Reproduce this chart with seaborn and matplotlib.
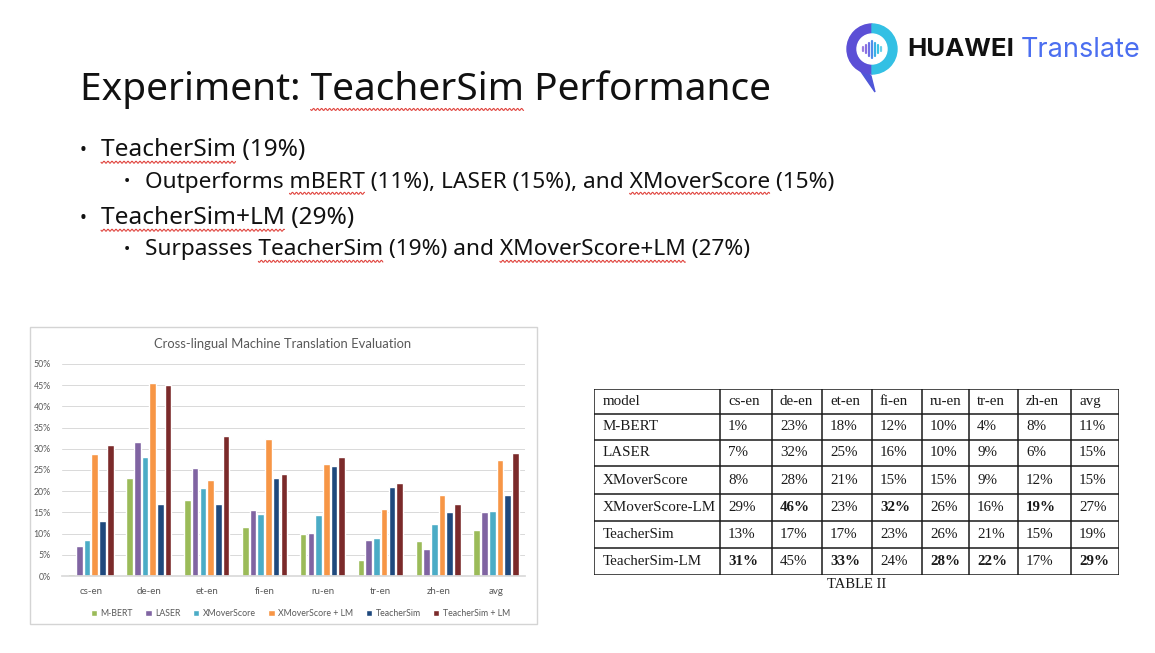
import numpy as np
import pandas as pd
import seaborn as sns
import matplotlib.pyplot as plt
from matplotlib.patches import Rectangle, Wedge, Polygon, Circle
from matplotlib.lines import Line2D
from matplotlib import ticker

# chart data (percent)
pairs = ['cs-en', 'de-en', 'et-en', 'fi-en', 'ru-en', 'tr-en', 'zh-en', 'avg']
models = ['M-BERT', 'LASER', 'XMoverScore', 'XMoverScore + LM', 'TeacherSim', 'TeacherSim + LM']
mbert = [0.5, 23, 18, 11.5, 10, 3.8, 8.2, 10.8]
laser = [7.1, 31.7, 25.4, 15.5, 10.1, 8.5, 6.4, 15.0]
xmover = [8.4, 28.0, 20.8, 14.7, 14.5, 8.9, 12.3, 15.3]
xmover_lm = [28.8, 45.5, 22.6, 32.2, 26.4, 15.9, 19.2, 27.3]
teachersim = [13.0, 17.0, 17.0, 23.1, 26.0, 21.0, 15.0, 19.0]
teachersim_lm = [31.0, 45.0, 33.0, 24.0, 28.0, 22.0, 17.0, 29.0]
colors = ['#9bbb59', '#8064a2', '#4bacc6', '#f79646', '#1f497d', '#7b2a2a']

# table data
table_models = ['M-BERT', 'LASER', 'XMoverScore', 'XMoverScore-LM', 'TeacherSim', 'TeacherSim-LM']
table_vals = [
    [1, 23, 18, 12, 10, 4, 8, 11],
    [7, 32, 25, 16, 10, 9, 6, 15],
    [8, 28, 21, 15, 15, 9, 12, 15],
    [29, 46, 23, 32, 26, 16, 19, 27],
    [13, 17, 17, 23, 26, 21, 15, 19],
    [31, 45, 33, 24, 28, 22, 17, 29],
]
bold_cells = [(3, 1), (3, 3), (3, 6), (5, 0), (5, 2), (5, 4), (5, 5), (5, 7)]

W, H = 1155, 653


def fx(x):
    return x / W


def fy(y):
    return 1 - y / H


sns.set_theme(style='white')
plt.rcParams['font.family'] = ['Noto Sans', 'DejaVu Sans']

fig = plt.figure(figsize=(W / 100, H / 100), dpi=100)
fig.patch.set_facecolor('white')
renderer = fig.canvas.get_renderer()


def text_width(s, fs):
    t = fig.text(0, 0, s, fontsize=fs)
    w = t.get_window_extent(renderer).width
    t.remove()
    return w


def squiggle(x_px, y_px, full, word, fs):
    # red spell-check wave under a word of a slide line
    end = full.index(word) + len(word)
    x1 = x_px + text_width(full[:end], fs)
    x0 = x1 - text_width(word, fs)
    xs = np.arange(x0, x1, 0.5)
    yb = y_px + fs * 1.389 * 0.5
    ys = yb + 1.0 * np.sin(2 * np.pi * (xs - x0) / 4)
    fig.add_artist(Line2D(xs / W, 1 - ys / H, color='#e0443e', lw=0.8,
                          transform=fig.transFigure))


# ---- slide text ----
title = 'Experiment: TeacherSim Performance'
fig.text(fx(80), fy(90), title, fontsize=28, va='center', ha='left', color='#111111')
squiggle(80, 90, title, 'TeacherSim', 28)

bullets = [
    (80, 101, 150, 'TeacherSim (19%)', 17.6, ['TeacherSim']),
    (124, 145, 182, 'Outperforms mBERT (11%), LASER (15%), and XMoverScore (15%)', 16.3,
     ['mBERT', 'XMoverScore']),
    (80, 101, 218, 'TeacherSim+LM (29%)', 17.6, ['TeacherSim+LM']),
    (124, 145, 250, 'Surpasses TeacherSim (19%) and XMoverScore+LM (27%)', 16.3,
     ['TeacherSim', 'XMoverScore+LM']),
]
for bx, tx, ty, txt, fs, marked in bullets:
    fig.text(fx(bx), fy(ty), '•', fontsize=fs * 0.75, va='center', color='#111111')
    fig.text(fx(tx), fy(ty), txt, fontsize=fs, va='center', color='#111111')
    for w in marked:
        squiggle(tx, ty, txt, w, fs)

# ---- logo ----
ax_i = fig.add_axes([fx(843), fy(94), 58 / W, 80 / H])
ax_i.set_xlim(0, 58)
ax_i.set_ylim(80, 0)
ax_i.set_aspect('equal')
ax_i.axis('off')
ax_i.add_patch(Polygon([[10, 46], [28, 62], [32, 78]], closed=True, color='#4f56d8'))
ax_i.add_patch(Wedge((29, 35), 25, 90, 270, width=10, color='#5b4fd6'))
ax_i.add_patch(Wedge((29, 35), 25, -90, 90, width=10, color='#33c0e4'))
ax_i.add_patch(Circle((29, 35), 15, color='white'))
wave_h = [4, 8, 13, 17, 13, 8, 4]
wave_c = ['#9a7de0', '#8a6fe0', '#6f6ee6', '#4f8de8', '#3ab0e6', '#3ac4e6', '#6ad0ea']
for i, (h, c) in enumerate(zip(wave_h, wave_c)):
    ax_i.plot([20 + i * 3, 20 + i * 3], [35 - h / 2, 35 + h / 2], color=c, lw=1.6,
              solid_capstyle='round')
fig.text(fx(907), fy(50), 'HUAWEI', fontsize=18.5, fontweight='bold', va='center',
         family='Inter', color='#111111')
fig.text(fx(1021), fy(50), 'Translate', fontsize=19.5, va='center', family='Inter',
         color='#4b6ef0')

# ---- bar chart ----
fig.patches.append(Rectangle((fx(30), fy(624)), (537 - 30) / W, (624 - 327) / H,
                             transform=fig.transFigure, fill=False, ec='#d4d4d4', lw=1))
fig.text(fx(283), fy(344), 'Cross-lingual Machine Translation Evaluation', fontsize=9.4,
         ha='center', va='center', color='#595959', family='Lato')

series = [mbert, laser, xmover, xmover_lm, teachersim, teachersim_lm]
rows = []
for m, vals in zip(models, series):
    for p, v in zip(pairs, vals):
        rows.append({'pair': p, 'model': m, 'value': v / 100})
df = pd.DataFrame(rows)

ax = fig.add_axes([fx(62), fy(576), (525 - 62) / W, (576 - 364) / H])
sns.barplot(data=df, x='pair', y='value', hue='model', palette=colors, width=0.8,
            gap=0.14, saturation=1, ax=ax)
ax.set_ylim(0, 0.5)
ax.yaxis.set_major_locator(ticker.MultipleLocator(0.05))
ax.yaxis.set_major_formatter(ticker.PercentFormatter(1.0, decimals=0))
ax.grid(axis='y', color='#d9d9d9', lw=0.7)
ax.set_axisbelow(True)
for s in ['top', 'right', 'left']:
    ax.spines[s].set_visible(False)
ax.spines['bottom'].set_color('#d9d9d9')
ax.set_xlabel('')
ax.set_ylabel('')
ax.tick_params(axis='y', length=0, pad=8, labelsize=6.3, labelcolor='#595959')
ax.tick_params(axis='x', length=0, pad=8, labelsize=7, labelcolor='#595959')
for lab in ax.get_xticklabels() + ax.get_yticklabels():
    lab.set_family('Lato')
sns.move_legend(ax, 'upper center', bbox_to_anchor=(0.515, -0.12), ncol=6,
                frameon=False, title=None, fontsize=6.3, handlelength=0.7,
                handleheight=0.7, handletextpad=0.4, columnspacing=1.45)
for t in ax.get_legend().get_texts():
    t.set_color('#595959')
    t.set_family('Lato')

# ---- table ----
col_w = [126, 52, 50, 50, 50, 47, 49, 53, 48]
row_h = [25, 26, 26, 28, 27, 27, 27]
x_edges = np.concatenate([[0], np.cumsum(col_w)])
y_edges = np.concatenate([[0], np.cumsum(row_h)])
ax_t = fig.add_axes([fx(594), fy(389 + y_edges[-1]), x_edges[-1] / W, y_edges[-1] / H])
ax_t.set_xlim(0, x_edges[-1])
ax_t.set_ylim(y_edges[-1], 0)
ax_t.axis('off')
for yv in y_edges:
    ax_t.axhline(yv, color='#1a1a1a', lw=1.1)
for xv in x_edges:
    ax_t.axvline(xv, color='#1a1a1a', lw=1.1)

serif = 'Liberation Serif'
header = ['model'] + pairs
cells = [header] + [[m] + [f'{v}%' for v in vals] for m, vals in zip(table_models, table_vals)]
for r, row in enumerate(cells):
    yc = (y_edges[r] + y_edges[r + 1]) / 2
    for c, txt in enumerate(row):
        pad = 9 if c == 0 else 8
        weight = 'bold' if (r - 1, c - 1) in bold_cells else 'normal'
        ax_t.text(x_edges[c] + pad, yc, txt, fontsize=10.8, family=serif, va='center',
                  ha='left', fontweight=weight, color='#1a1a1a')
fig.text(fx(857), fy(584), 'TABLE II', fontsize=10.5, family=serif, ha='center',
         va='center', color='#1a1a1a')

fig.savefig('out.png', dpi=100)
